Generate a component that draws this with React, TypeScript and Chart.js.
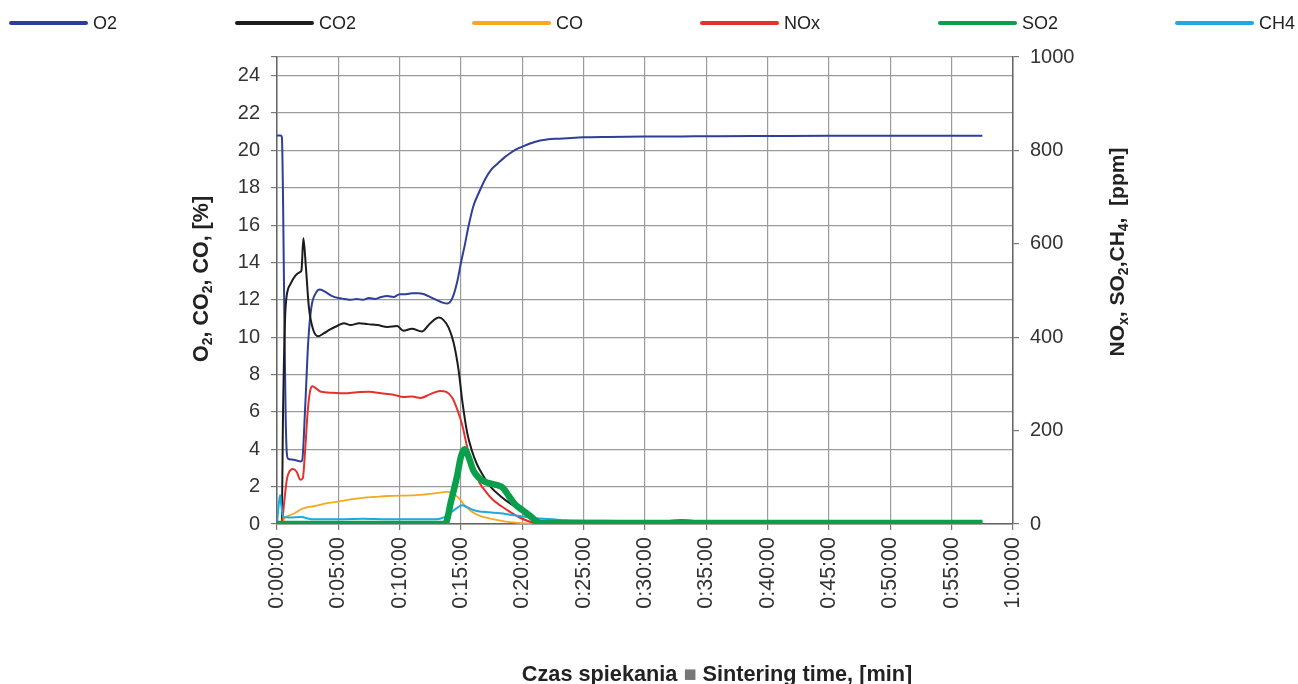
import React, { useEffect, useRef } from 'react';
import { Chart, registerables } from 'chart.js';
Chart.register(...registerables);

// ---- data (time in minutes) ----
const O2_T = [0, 0.3, 0.4, 0.5, 0.6, 0.7, 0.8, 0.9, 1.2, 1.6, 1.9, 2.05, 2.3, 2.55, 2.8, 3.2, 3.5, 4.0, 4.5, 5.0, 5.5, 6.0, 6.5, 7.0, 7.5, 8.0, 8.5, 9.0, 9.5, 10.0, 10.5, 11.0, 11.5, 12.0, 12.5, 13.0, 13.5, 13.9, 14.3, 14.7, 15.0, 15.3, 15.6, 16.0, 16.5, 17.0, 17.5, 18.0, 18.5, 19.0, 19.5, 20.0, 21, 22, 23, 24, 25, 27, 30, 33, 36, 40, 45, 50, 55, 57.5];
const O2_V = [20.8, 20.8, 20.7, 17, 11, 6, 3.8, 3.5, 3.45, 3.4, 3.35, 3.4, 6.3, 9.8, 11.6, 12.4, 12.55, 12.4, 12.2, 12.1, 12.05, 12.0, 12.05, 12.0, 12.1, 12.05, 12.15, 12.2, 12.15, 12.3, 12.3, 12.35, 12.35, 12.3, 12.15, 12.0, 11.85, 11.8, 12.1, 13.0, 14.0, 14.9, 15.9, 17.0, 17.8, 18.5, 19.0, 19.3, 19.6, 19.85, 20.05, 20.2, 20.45, 20.58, 20.63, 20.67, 20.7, 20.72, 20.74, 20.75, 20.76, 20.77, 20.78, 20.78, 20.78, 20.78];

const CO2_T = [0, 0.38, 0.5, 0.7, 1.06, 1.5, 1.9, 2.0, 2.15, 2.35, 2.6, 2.95, 3.35, 3.8, 4.3, 4.9, 5.45, 6.0, 6.7, 7.4, 8.2, 9.0, 9.8, 10.3, 11.0, 11.8, 12.5, 13.2, 13.6, 14.0, 14.4, 14.8, 15.1, 15.5, 15.9, 16.3, 16.8, 17.4, 18.2, 19.0, 19.7, 20.4, 21.0, 21.5, 22.0, 25, 30, 40, 50, 57.5];
const CO2_V = [0, 0.1, 6.3, 11.6, 12.8, 13.3, 13.5, 13.6, 15.3, 13.8, 11.6, 10.4, 10.05, 10.2, 10.4, 10.6, 10.75, 10.65, 10.75, 10.7, 10.65, 10.55, 10.6, 10.35, 10.45, 10.3, 10.75, 11.05, 10.9, 10.5, 9.7, 8.25, 6.6, 4.9, 3.9, 3.2, 2.6, 2.0, 1.5, 1.1, 0.85, 0.6, 0.3, 0.1, 0.05, 0.05, 0.05, 0.05, 0.05, 0.05];

const CO_T = [0, 0.4, 0.6, 1.0, 1.5, 2.0, 2.5, 3.0, 4, 5, 6, 7, 8, 9, 10, 11, 12, 13, 13.8, 14.3, 14.8, 15.3, 15.8, 16.5, 17.3, 18.2, 19, 20, 21, 57.5];
const CO_V = [0, 0.05, 0.3, 0.45, 0.6, 0.8, 0.9, 0.95, 1.1, 1.2, 1.32, 1.4, 1.45, 1.5, 1.52, 1.53, 1.58, 1.65, 1.72, 1.65, 1.4, 1.0, 0.7, 0.45, 0.3, 0.18, 0.1, 0.05, 0, 0];

const NOX_T = [0, 0.4, 0.6, 0.8, 1.0, 1.3, 1.6, 1.9, 2.1, 2.3, 2.5, 2.7, 2.9, 3.2, 3.6, 4.5, 5.5, 6.5, 7.5, 8.5, 9.5, 10.3, 11.0, 11.7, 12.5, 13.3, 13.8, 14.3, 14.7, 15.1, 15.5, 15.9, 16.5, 17.0, 17.6, 18.3, 19.0, 19.7, 20.4, 21.0, 21.5, 57.5];
const NOX_V = [0, 5, 50, 95, 112, 118, 112, 95, 98, 160, 240, 285, 295, 290, 283, 281, 280, 282, 283, 280, 277, 272, 273, 270, 278, 285, 283, 270, 245, 212, 165, 127, 89, 70, 52, 38, 26, 15, 7, 2, 0, 0];

const SO2_T = [0, 13.7, 14.2, 14.7, 15.0, 15.3, 15.6, 16.0, 16.5, 17.0, 17.5, 18.0, 18.4, 18.9, 19.4, 20.0, 20.6, 21.2, 21.6, 32, 33, 34, 57.5];
const SO2_V = [0, 0, 50, 105, 145, 160, 145, 115, 98, 90, 86, 83, 78, 60, 42, 30, 18, 5, 2, 2, 4, 2, 2];

const CH4_T = [0, 0.1, 0.25, 0.35, 0.5, 1.0, 2.0, 2.5, 3, 5, 7, 9, 11, 13, 13.6, 14.1, 14.6, 15.1, 15.5, 16.0, 16.5, 17.3, 18.2, 19, 19.8, 20.6, 21.4, 22.5, 23.6, 26, 30, 40, 50, 57.5];
const CH4_V = [0, 30, 62, 40, 15, 14, 15, 12, 10, 10, 11, 10, 10, 10, 14, 23, 33, 40, 36, 30, 27, 25, 23, 20, 17, 14, 12, 10, 8, 7, 6, 6, 6, 6];

const SERIES_NAMES = ['O2', 'CO2', 'CO', 'NOx', 'SO2', 'CH4'];
const SERIES_COLORS = ['#2f3f98', '#1c1c1c', '#f6a81f', '#e4322b', '#0a9f4a', '#1ea9e1'];

const X_TICKS = [0, 5, 10, 15, 20, 25, 30, 35, 40, 45, 50, 55, 60];
const LEFT_TICKS = [0, 2, 4, 6, 8, 10, 12, 14, 16, 18, 20, 22, 24, 25];
const RIGHT_TICKS = [0, 200, 400, 600, 800, 1000];

const FONT = '"Liberation Sans", Arial, sans-serif';
const LEGEND_X = [10, 236, 473, 701, 939, 1176];

const pts = (t: number[], v: number[]) => t.map((x, i) => ({ x, y: v[i] }));

const fmtTime = (m: number) => {
  const h = Math.floor(m / 60);
  const mm = Math.round(m % 60);
  return `${h}:${String(mm).padStart(2, '0')}:00`;
};

type Run = { text: string; sub?: boolean; color?: string };

function drawRuns(ctx: CanvasRenderingContext2D, runs: Run[], cx: number, cy: number, rot: number, size: number) {
  const big = `bold ${size}px ${FONT}`;
  const small = `bold ${Math.round(size * 0.65)}px ${FONT}`;
  let total = 0;
  const widths = runs.map((r) => {
    ctx.font = r.sub ? small : big;
    const w = ctx.measureText(r.text).width;
    total += w;
    return w;
  });
  ctx.save();
  ctx.translate(cx, cy);
  ctx.rotate(rot);
  ctx.textBaseline = 'alphabetic';
  ctx.textAlign = 'left';
  let x = -total / 2;
  const base = size * 0.36;
  runs.forEach((r, i) => {
    ctx.font = r.sub ? small : big;
    ctx.fillStyle = r.color || '#222';
    ctx.fillText(r.text, x, r.sub ? base + size * 0.22 : base);
    x += widths[i];
  });
  ctx.restore();
}

const decorPlugin = {
  id: 'decor',
  afterDraw(chart: any) {
    const ctx: CanvasRenderingContext2D = chart.ctx;
    // legend
    ctx.save();
    SERIES_NAMES.forEach((name, i) => {
      const x0 = LEGEND_X[i];
      const y = 23;
      ctx.strokeStyle = SERIES_COLORS[i];
      ctx.lineWidth = 4;
      ctx.lineCap = 'round';
      ctx.beginPath();
      ctx.moveTo(x0 + 1, y);
      ctx.lineTo(x0 + 76, y);
      ctx.stroke();
      ctx.font = `18px ${FONT}`;
      ctx.fillStyle = '#222';
      ctx.textBaseline = 'middle';
      ctx.textAlign = 'left';
      ctx.fillText(name, x0 + 83, y + 1);
    });
    ctx.restore();
    // axis titles
    drawRuns(ctx, [
      { text: 'O' }, { text: '2', sub: true }, { text: ', CO' }, { text: '2', sub: true }, { text: ', CO, [%]' },
    ], 200, 279, -Math.PI / 2, 21.5);
    drawRuns(ctx, [
      { text: 'NO' }, { text: 'x', sub: true }, { text: ', SO' }, { text: '2', sub: true }, { text: ',CH' }, { text: '4', sub: true }, { text: ',  [ppm]' },
    ], 1116, 252, -Math.PI / 2, 21);
    drawRuns(ctx, [
      { text: 'Czas spiekania ' }, { text: '■', color: '#777' }, { text: ' Sintering time, [min]' },
    ], 717, 673, 0, 21.7);
  },
};

export default function App() {
  const ref = useRef<HTMLCanvasElement | null>(null);
  useEffect(() => {
    if (!ref.current) return;
    const mk = (i: number, t: number[], v: number[], axis: string, width: number, order: number) => ({
      label: SERIES_NAMES[i],
      data: pts(t, v),
      borderColor: SERIES_COLORS[i],
      backgroundColor: SERIES_COLORS[i],
      borderWidth: width,
      pointRadius: 0,
      cubicInterpolationMode: 'monotone' as const,
      yAxisID: axis,
      order,
    });
    const gridColor = '#9a9a9a';
    const chart = new Chart(ref.current, {
      type: 'line',
      data: {
        datasets: [
          mk(0, O2_T, O2_V, 'y', 2, 6),
          mk(1, CO2_T, CO2_V, 'y', 2, 5),
          mk(2, CO_T, CO_V, 'y', 1.8, 4),
          mk(3, NOX_T, NOX_V, 'y1', 2, 3),
          mk(5, CH4_T, CH4_V, 'y1', 2, 2),
          mk(4, SO2_T, SO2_V, 'y1', 6.5, 1),
        ],
      },
      options: {
        responsive: false,
        animation: false,
        devicePixelRatio: 1,
        layout: { padding: { top: 57, left: 0, right: 0, bottom: 0 } },
        plugins: { legend: { display: false }, tooltip: { enabled: false } },
        scales: {
          x: {
            type: 'linear',
            min: 0,
            max: 60,
            afterBuildTicks: (s: any) => { s.ticks = X_TICKS.map((value) => ({ value })); },
            afterFit: (s: any) => { s.height = 160; },
            ticks: {
              autoSkip: false,
              minRotation: 90,
              maxRotation: 90,
              padding: 7,
              color: '#333',
              font: { family: FONT, size: 21.5 },
              callback: (v: any) => fmtTime(Number(v)),
            },
            grid: { color: gridColor, lineWidth: 1.2, tickLength: 6, tickColor: '#777' },
            border: { color: '#666', width: 1.5 },
          },
          y: {
            type: 'linear',
            position: 'left',
            min: 0,
            max: 25,
            afterBuildTicks: (s: any) => { s.ticks = LEFT_TICKS.map((value) => ({ value })); },
            afterFit: (s: any) => { s.width = 277; },
            ticks: {
              autoSkip: false,
              padding: 11,
              color: '#333',
              font: { family: FONT, size: 20 },
              callback: (v: any) => (Number(v) === 25 ? '' : String(v)),
            },
            grid: { color: gridColor, lineWidth: 1.2, tickLength: 6, tickColor: '#777' },
            border: { color: '#666', width: 1.5 },
          },
          y1: {
            type: 'linear',
            position: 'right',
            min: 0,
            max: 1000,
            afterBuildTicks: (s: any) => { s.ticks = RIGHT_TICKS.map((value) => ({ value })); },
            afterFit: (s: any) => { s.width = 285; },
            ticks: {
              autoSkip: false,
              padding: 11,
              color: '#333',
              font: { family: FONT, size: 20 },
              callback: (v: any) => String(v),
            },
            grid: { drawOnChartArea: false, tickLength: 6, tickColor: '#777', lineWidth: 1.2 },
            border: { color: '#666', width: 1.5 },
          },
        },
      },
      plugins: [decorPlugin],
    });
    return () => chart.destroy();
  }, []);
  return (
    <div style={{ position: 'fixed', left: 0, top: 0, width: 1298, height: 684, background: '#fff' }}>
      <canvas ref={ref} width={1298} height={684} style={{ display: 'block' }} />
    </div>
  );
}
